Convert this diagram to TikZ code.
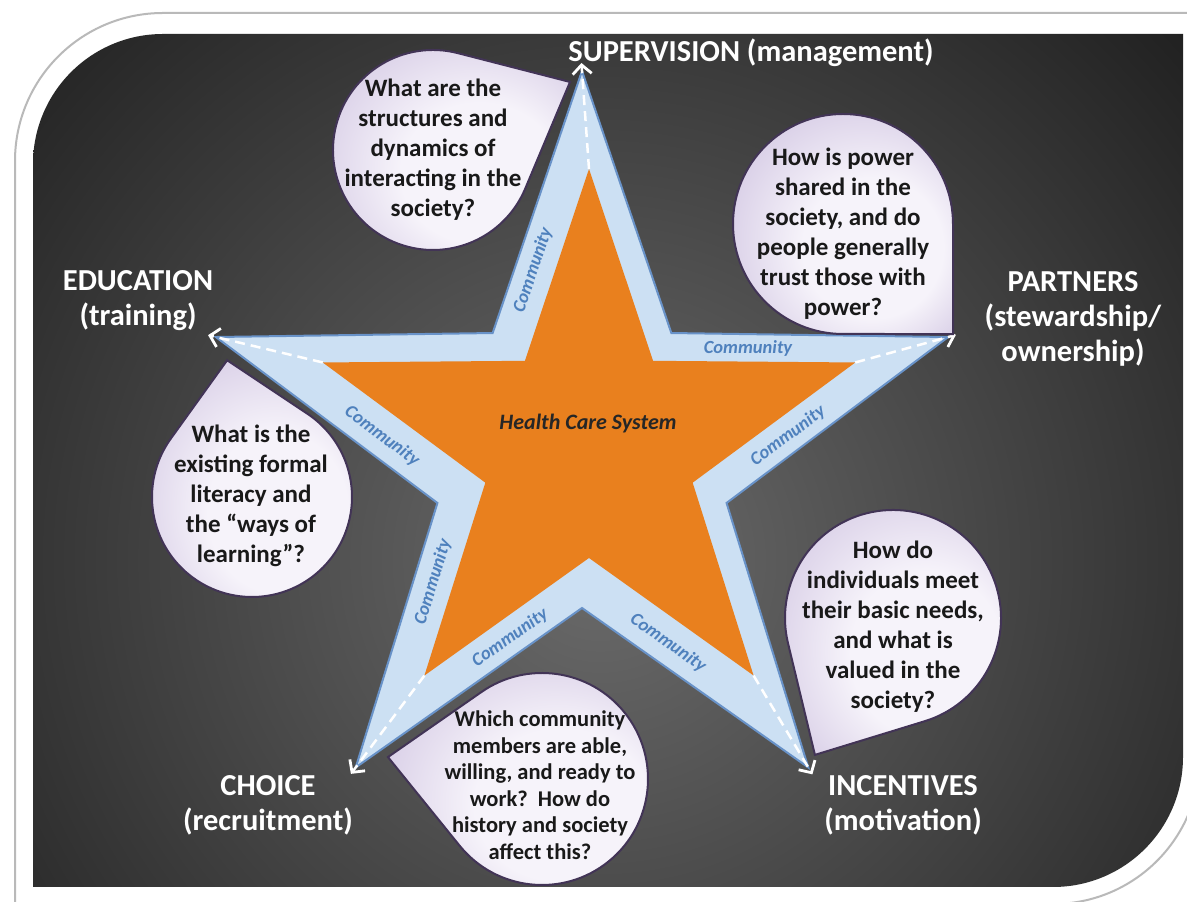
\documentclass[tikz,border=0pt]{standalone}
\usepackage{fontspec}
\setmainfont{Carlito}
\usetikzlibrary{calc,arrows.meta}

\definecolor{bandblue}{RGB}{204,224,243}
\definecolor{bandedge}{RGB}{104,146,200}
\definecolor{starorange}{RGB}{233,128,30}
\definecolor{commblue}{RGB}{79,129,189}
\definecolor{lavlight}{RGB}{246,243,250}
\definecolor{lavdark}{RGB}{200,186,220}
\definecolor{bubbleedge}{RGB}{66,52,86}

\pgfdeclareradialshading{bubbleshade}{\pgfpoint{10bp}{-8bp}}{color(0bp)=(lavlight); color(16bp)=(lavlight); color(40bp)=(lavdark); color(50bp)=(lavdark)}

\tikzstyle{band}=[fill=bandblue, draw=bandedge, line width=2pt]
\tikzstyle{core}=[fill=starorange]
\tikzstyle{tipline}=[white, line width=2.5pt, dash pattern=on 10pt off 6pt,
                     -{Straight Barb[length=9pt,width=19pt,line width=2.8pt]}, shorten >=-8pt]
\tikzstyle{community}=[text=commblue, font=\fontsize{18.5}{20}\selectfont\bfseries\itshape]
\tikzstyle{pillar}=[text=white, align=center, font=\fontsize{30.5}{35}\selectfont\bfseries]
\tikzstyle{question}=[text=black!90, align=center, font=\fontsize{25}{30}\selectfont\bfseries]
\tikzstyle{bubble}=[shading=bubbleshade, draw=bubbleedge, line width=2pt]

% teardrop: centre, radius, angle of the point, distance of the point
\newcommand{\teardrop}[4]{%
  \pgfmathsetmacro{\tdspread}{acos(#2/#4)}
  \shade[bubble] ($(#1)+(#3:#4)$) -- ($(#1)+({#3+\tdspread}:#2)$)
    arc[start angle={#3+\tdspread}, delta angle={360-2*\tdspread}, radius=#2] -- cycle;
}

\begin{document}
\begin{tikzpicture}[x=1pt,y=1pt]
    \useasboundingbox (0,0) rectangle (1187,902);
    \fill[white] (0,0) rectangle (1187,902);

    % white frame and the dark panel inside it
    \draw[gray!55, line width=2pt, fill=white] (15,-2) -- (15,741)
        arc[start angle=180, end angle=90, radius=148] -- (1200,889) -- (1200,145)
        arc[start angle=0, end angle=-90, radius=147] -- cycle;
    \begin{scope}
        \clip (33,15) -- (33,738) arc[start angle=180, end angle=90, radius=130]
            -- (1183,868) -- (1183,145) arc[start angle=0, end angle=-90, radius=130] -- cycle;
        \shade[inner color=black!58, outer color=black!95] (600,342) circle (1000);
    \end{scope}

    \coordinate (oc) at (582,446);
    \coordinate (ic) at (589,453);

    % The stars are built in one path each: the foreach sits inside the
    % path, so the tips (radius 385 / 280) and the dents (152 / 109)
    % come out as a single closed outline.
    \filldraw[band] ($(oc)+(90:385)$)
        \foreach \a in {126,198,270,342} { -- ($(oc)+(\a:152)$) -- ($(oc)+(\a+36:385)$) }
        -- ($(oc)+(54:152)$) -- cycle;
    \fill[core] ($(ic)+(90:280)$)
        \foreach \a in {126,198,270,342} { -- ($(ic)+(\a:109)$) -- ($(ic)+(\a+36:280)$) }
        -- ($(ic)+(54:109)$) -- cycle;

    \foreach \a/\n in {90/top,162/left,234/lowleft,306/lowright,18/right} {
        \coordinate (out-\n) at ($(oc)+(\a:385)$);
        \coordinate (in-\n) at ($(ic)+(\a:280)$);
    }
    \foreach \n in {top,left,lowleft,lowright,right}
        \draw[tipline] (in-\n) -- (out-\n);

    \foreach \x/\y/\r/\n in {533/632/71.2/a, 748/554/0/b, 382/466/-36.9/c, 788/466/36.9/d,
                             433/320/72.9/e, 510/264/35.1/f, 668/259/-35.1/g}
        \node[community, rotate=\r] (comm-\n) at (\x,\y) {Community};

    \node[text=black!85, font=\fontsize{22}{24}\selectfont\bfseries\itshape] (hcs) at (588,478)
        {Health Care System};

    % question bubbles
    \teardrop{433,752}{100}{26.4}{153}
    \teardrop{843,678}{110}{-45}{155.6}
    \teardrop{252,405}{100}{100.3}{139}
    \teardrop{893,284}{108}{240.3}{157.6}
    \teardrop{542,123}{106}{171.9}{155.6}

    \node[question] (q-structures) at (433,752)
        {What are the\\structures and\\dynamics of\\interacting in the\\society?};
    \node[question] (q-power) at (843,668)
        {How is power\\shared in the\\society, and do\\people generally\\trust those with\\power?};
    \node[question] (q-literacy) at (251,406)
        {What is the\\existing formal\\literacy and\\the “ways of\\learning”?};
    \node[question] (q-needs) at (893,275)
        {How do\\individuals meet\\their basic needs,\\and what is\\valued in the\\society?};
    \node[question, font=\fontsize{22.5}{26.5}\selectfont\bfseries] (q-work) at (540,117)
        {Which community\\members are able,\\willing, and ready to\\work?~~How do\\history and society\\affect this?};

    % the five pillars
    \node[pillar] (supervision) at (751,849) {SUPERVISION (management)};
    \node[pillar] (education) at (138,601) {EDUCATION\\(training)};
    \node[pillar] (partners) at (1073,583) {PARTNERS\\(stewardship/\\ownership)};
    \node[pillar] (choice) at (268,97) {CHOICE\\(recruitment)};
    \node[pillar] (incentives) at (903,97) {INCENTIVES\\(motivation)};
\end{tikzpicture}
\end{document}
